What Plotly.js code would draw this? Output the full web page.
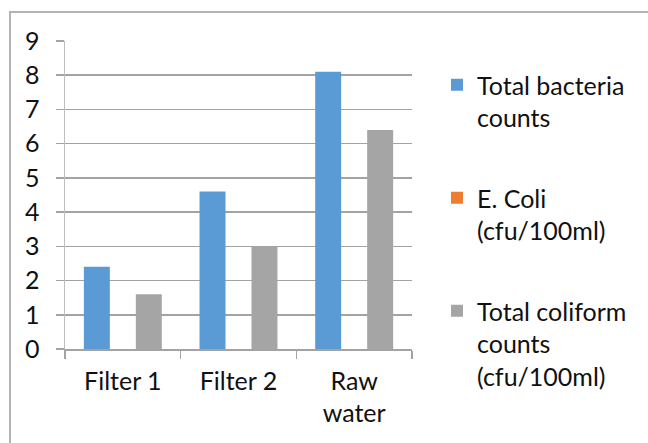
<!DOCTYPE html>
<html>
<head>
<meta charset="utf-8">
<script src="https://cdn.plot.ly/plotly-3.0.1.min.js"></script>
<style>
  html, body { margin: 0; padding: 0; background: #ffffff; }
  #chart { width: 648px; height: 443px; }
</style>
</head>
<body>
<div id="chart"></div>
<script>
// Sample sites along the treatment line
const categories = ['Filter 1', 'Filter 2', 'Raw<br>water'];

// Series names and measured counts
const seriesNames = [
  'Total bacteria<br>counts',
  'E. Coli<br>(cfu/100ml)',
  'Total coliform<br>counts<br>(cfu/100ml)'
];
const totalBacteria = [2.4, 4.6, 8.1];
const eColi = [0, 0, 0];
const totalColiform = [1.6, 3.0, 6.4];

const seriesColors = ['#5B9BD5', '#ED7D31', '#A5A5A5'];
const yTicks = [0, 1, 2, 3, 4, 5, 6, 7, 8, 9];

const font = 'Lato, "Open Sans", sans-serif';
const gridColor = '#a3a3a3';

const seriesValues = [totalBacteria, eColi, totalColiform];
const traces = seriesValues.map((vals, i) => ({
  type: 'bar',
  x: categories,
  y: vals,
  name: seriesNames[i],
  legendgroup: 'g' + i,
  marker: { color: seriesColors[i] },
  hoverinfo: 'skip'
}));

// Plot area in pixels: left 65, right 412, top 41, bottom 349
const W = 648, H = 443;
const L = 65, R = 412, T = 41, B = 349;
const pw = R - L, ph = B - T;
const px = v => (v - L) / pw;
const py = v => (B - v) / ph;

const layout = {
  width: W,
  height: H,
  margin: { l: L, r: W - R, t: T, b: H - B, pad: 0 },
  paper_bgcolor: '#ffffff',
  plot_bgcolor: '#ffffff',
  font: { family: font, size: 25, color: '#111111' },
  barmode: 'group',
  bargap: 0.326,
  bargroupgap: 0,
  showlegend: true,
  legend: {
    x: px(437),
    xanchor: 'left',
    y: py(62),
    yanchor: 'top',
    maxheight: 420,
    traceorder: 'grouped',
    tracegroupgap: 45,
    valign: 'top',
    bgcolor: 'rgba(0,0,0,0)',
    font: { family: font, size: 25, color: '#111111' }
  },
  xaxis: {
    type: 'category',
    showgrid: false,
    showline: true,
    linecolor: gridColor,
    linewidth: 1.5,
    ticks: 'outside',
    tickson: 'boundaries',
    ticklen: 8,
    tickwidth: 1.5,
    tickcolor: gridColor,
    ticklabelstandoff: 9,
    tickfont: { family: font, size: 25, color: '#111111' },
    fixedrange: true
  },
  yaxis: {
    range: [0, 9],
    tickvals: yTicks,
    ticktext: yTicks.map(String),
    showgrid: true,
    gridcolor: gridColor,
    gridwidth: 1.5,
    zeroline: false,
    showline: true,
    linecolor: '#bdbdbd',
    linewidth: 1.5,
    ticks: 'outside',
    ticklen: 8,
    tickwidth: 1.5,
    tickcolor: gridColor,
    ticklabelstandoff: 11,
    tickfont: { family: font, size: 25, color: '#111111' },
    fixedrange: true
  },
  shapes: [{
    // chart frame, open to the right and bottom
    type: 'rect',
    xref: 'paper', yref: 'paper',
    x0: px(10), x1: px(700),
    y0: py(500), y1: py(12),
    line: { color: '#b4b4b4', width: 2 },
    fillcolor: 'rgba(0,0,0,0)',
    layer: 'below'
  }]
};

Plotly.newPlot('chart', traces, layout, { displayModeBar: false, staticPlot: true });
</script>
</body>
</html>
